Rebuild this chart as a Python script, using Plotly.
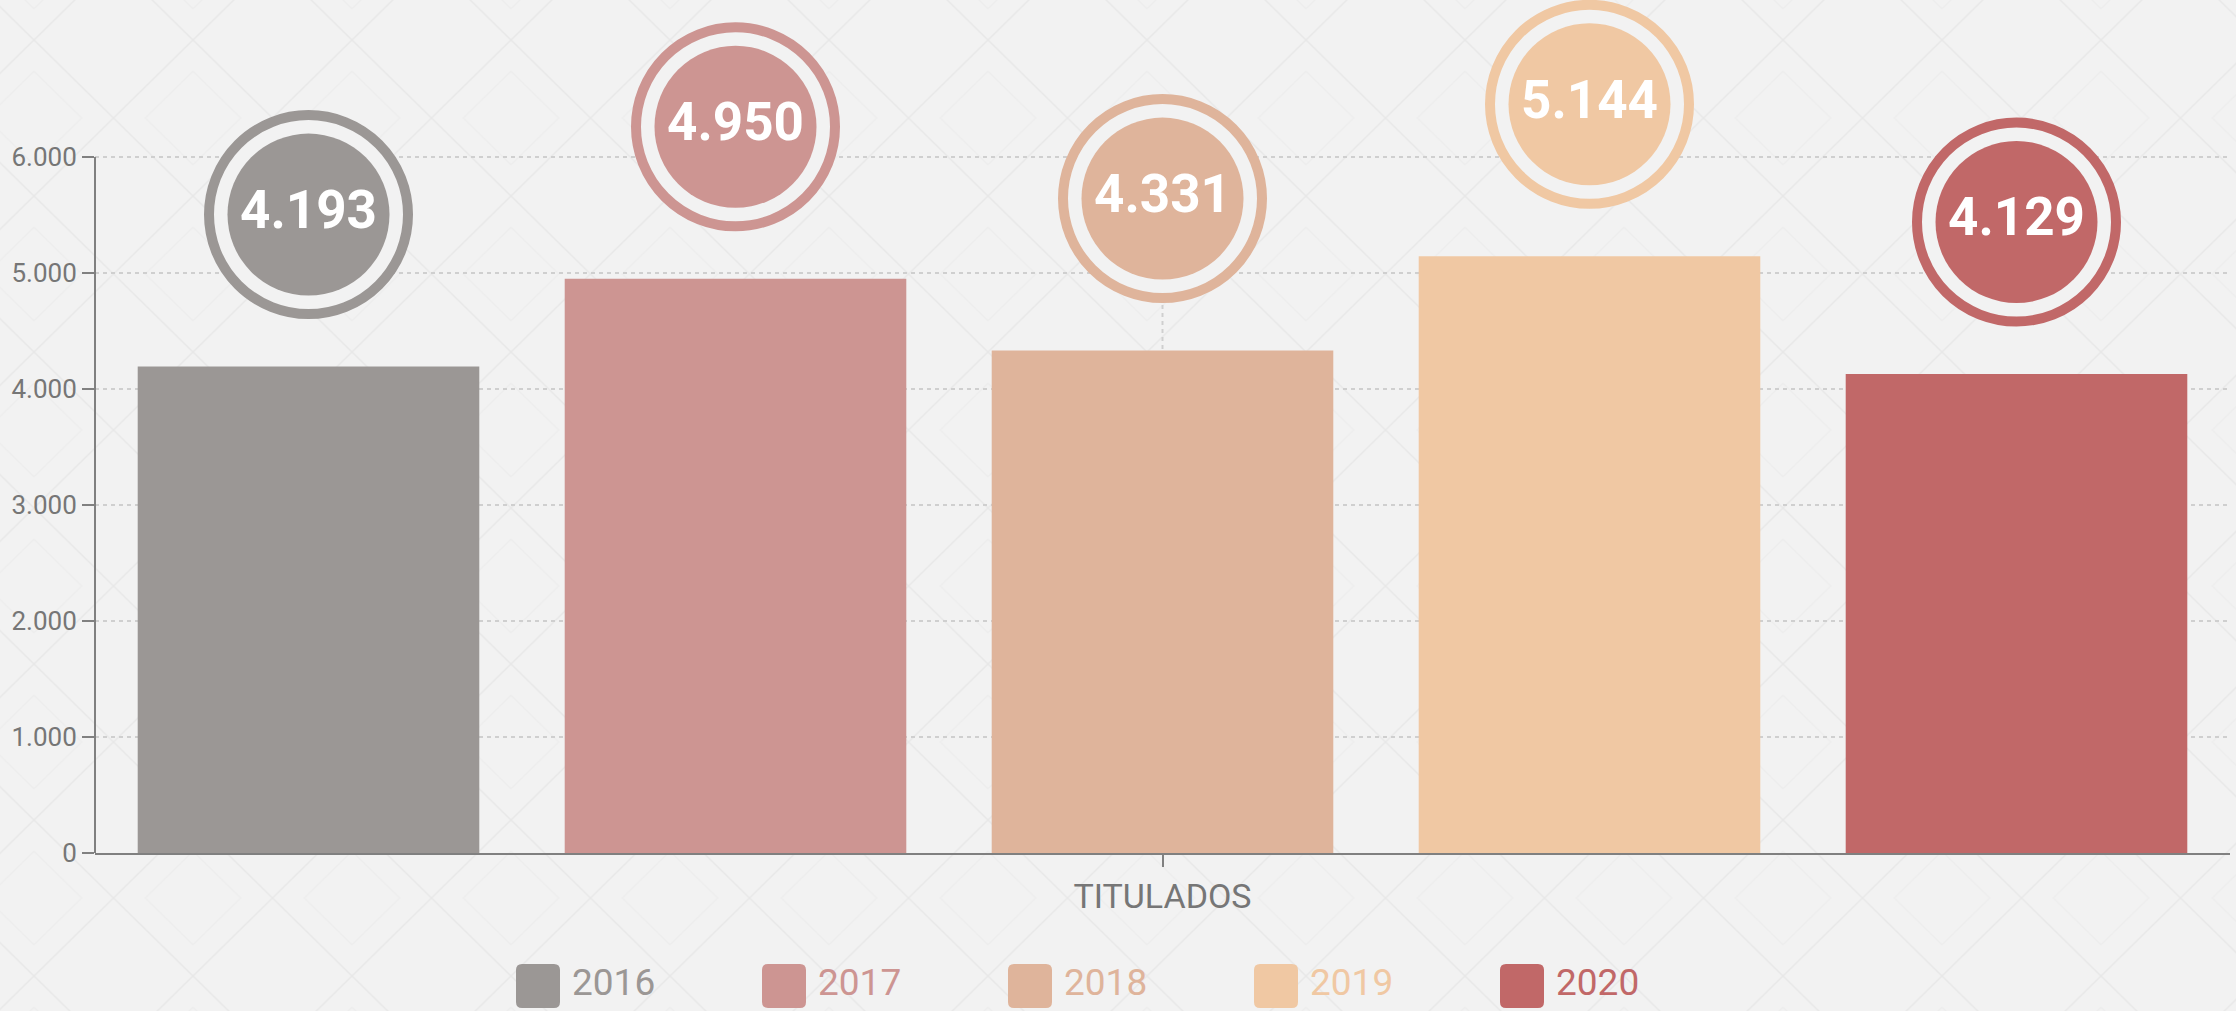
import base64
import plotly.graph_objects as go

# ---- data -------------------------------------------------------------
categories = ["TITULADOS"]
years = ["2016", "2017", "2018", "2019", "2020"]
values = [4193, 4950, 4331, 5144, 4129]
colors = ["#9b9795", "#cd9592", "#dfb49b", "#f0c8a3", "#c16868"]
y_ticks = [0, 1000, 2000, 3000, 4000, 5000, 6000]

# ---- page geometry -----------------------------------------------------
W, H = 2236, 1011
M_L, M_R, M_B = 95, 6, 158
ROW_ZERO = H - M_B          # pixel row of the value 0
ROW_TOP_TICK = 157          # pixel row of the highest tick
PLOT_W = W - M_L - M_R
PLOT_H = ROW_ZERO           # plot area runs to the top edge so badges fit
Y_TICK_MAX = y_ticks[-1]
PX_PER_UNIT = (ROW_ZERO - ROW_TOP_TICK) / Y_TICK_MAX
Y_TOP = PLOT_H / PX_PER_UNIT

BG = "#f2f2f2"
AXIS = "#808080"
TEXT = "#767676"
GRID = "#cfcfcf"
DASH = "4px,4px"
FONT = "Roboto, Liberation Sans, sans-serif"


def px_x(px):
    """Pixel column -> paper x."""
    return (px - M_L) / PLOT_W


def px_y(py):
    """Pixel row -> paper y."""
    return (ROW_ZERO - py) / PLOT_H


def fmt(v):
    return f"{v:,}".replace(",", ".")


# faint diamond lattice for the page background
tw, th = 159, 156
svg = f"""<svg xmlns='http://www.w3.org/2000/svg' width='{W}' height='{H}'>
<defs><pattern id='d' width='{tw}' height='{th}' patternUnits='userSpaceOnUse'
 patternTransform='translate({34 - tw / 2},40)'>
<path d='M{tw/2},0 L{tw},{th/2} L{tw/2},{th} L0,{th/2} Z' stroke='#e8e8e8' stroke-width='1.6' fill='none'/>
<path d='M{tw/2},{th*0.2} L{tw*0.8},{th/2} L{tw/2},{th*0.8} L{tw*0.2},{th/2} Z'
 stroke='#ededed' stroke-width='1.4' fill='none'/>
</pattern></defs>
<rect width='{W}' height='{H}' fill='{BG}'/>
<rect width='{W}' height='{H}' fill='url(#d)'/>
</svg>"""
bg_uri = "data:image/svg+xml;base64," + base64.b64encode(svg.encode()).decode()

idx = list(range(len(years)))
centre = (len(years) - 1) / 2
fig = go.Figure()

# bars, one trace per year
for i, (yr, v, c) in enumerate(zip(years, values, colors)):
    fig.add_trace(go.Bar(
        x=[i], y=[v], width=0.8, name=yr,
        marker=dict(color=c, line=dict(width=0)),
        showlegend=False, hoverinfo="name+y",
    ))

# value badges floating above each bar
badge_off = 152 / PX_PER_UNIT
badge_y = [v + badge_off for v in values]

fig.add_trace(go.Scatter(
    x=idx, y=badge_y, mode="markers", cliponaxis=False, showlegend=False,
    hoverinfo="skip",
    marker=dict(size=199, color=BG, line=dict(color=colors, width=10)),
))
fig.add_trace(go.Scatter(
    x=idx, y=badge_y, mode="markers", cliponaxis=False, showlegend=False,
    hoverinfo="skip",
    marker=dict(size=162, color=colors, line=dict(width=0)),
))
fig.add_trace(go.Scatter(
    x=idx, y=badge_y, mode="text", cliponaxis=False, showlegend=False,
    text=[fmt(v) for v in values], textposition="middle center",
    hoverinfo="skip",
    textfont=dict(color="white", size=53, family=FONT, weight="bold"),
))

shapes = [
    # value axis line, only over the tick range
    dict(type="line", xref="paper", yref="y", x0=0, x1=0, y0=0, y1=Y_TICK_MAX,
         line=dict(color=AXIS, width=2), layer="above"),
    # category gridline through the centre
    dict(type="line", xref="x", yref="y", x0=centre, x1=centre, y0=0, y1=Y_TICK_MAX,
         line=dict(color=GRID, width=2, dash=DASH), layer="below"),
]
annotations = []

# legend: rounded swatches + coloured year labels
sw, r = 44, 6
leg_x0, leg_step, leg_top = 516, 246, 964
X = lambda p: f"{px_x(p):.6f}"
Y = lambda p: f"{px_y(p):.6f}"
for i, (yr, c) in enumerate(zip(years, colors)):
    x0 = leg_x0 + i * leg_step
    x1, y0, y1 = x0 + sw, leg_top, leg_top + sw
    path = (
        f"M{X(x0 + r)},{Y(y0)} L{X(x1 - r)},{Y(y0)} Q{X(x1)},{Y(y0)} {X(x1)},{Y(y0 + r)} "
        f"L{X(x1)},{Y(y1 - r)} Q{X(x1)},{Y(y1)} {X(x1 - r)},{Y(y1)} "
        f"L{X(x0 + r)},{Y(y1)} Q{X(x0)},{Y(y1)} {X(x0)},{Y(y1 - r)} "
        f"L{X(x0)},{Y(y0 + r)} Q{X(x0)},{Y(y0)} {X(x0 + r)},{Y(y0)} Z"
    )
    shapes.append(dict(type="path", path=path, xref="paper", yref="paper",
                       fillcolor=c, line=dict(width=0), layer="above"))
    annotations.append(dict(
        x=px_x(x1 + 10), y=px_y(leg_top + sw / 2 - 4), xref="paper", yref="paper",
        xanchor="left", yanchor="middle", showarrow=False, text=yr,
        font=dict(size=37, color=c, family=FONT),
    ))

fig.update_layout(
    width=W, height=H, autosize=False,
    margin=dict(l=M_L, r=M_R, t=0, b=M_B, pad=0),
    paper_bgcolor=BG, plot_bgcolor="rgba(0,0,0,0)",
    barmode="overlay", separators=",.",
    font=dict(family=FONT, color=TEXT),
    showlegend=False,
    shapes=shapes, annotations=annotations,
    images=[dict(
        source=bg_uri, xref="paper", yref="paper",
        x=px_x(0), y=px_y(0), sizex=W / PLOT_W, sizey=H / PLOT_H,
        xanchor="left", yanchor="top", sizing="stretch", layer="below",
    )],
    xaxis=dict(
        range=[-0.5, len(years) - 0.5],
        tickvals=[centre], ticktext=categories,
        showgrid=False,
        showline=True, linecolor=AXIS, linewidth=2,
        ticks="outside", ticklen=12, tickwidth=2, tickcolor=AXIS,
        tickfont=dict(size=34, color=TEXT, family=FONT),
        zeroline=False, fixedrange=True,
    ),
    yaxis=dict(
        range=[0, Y_TOP], tickvals=y_ticks, tickformat=",d",
        showgrid=True, gridcolor=GRID, griddash=DASH, gridwidth=2,
        showline=False,
        ticks="outside", ticklen=12, tickwidth=2, tickcolor=AXIS,
        tickfont=dict(size=26, color=TEXT, family=FONT),
        zeroline=False, fixedrange=True,
    ),
)

fig.write_html("out.html")
